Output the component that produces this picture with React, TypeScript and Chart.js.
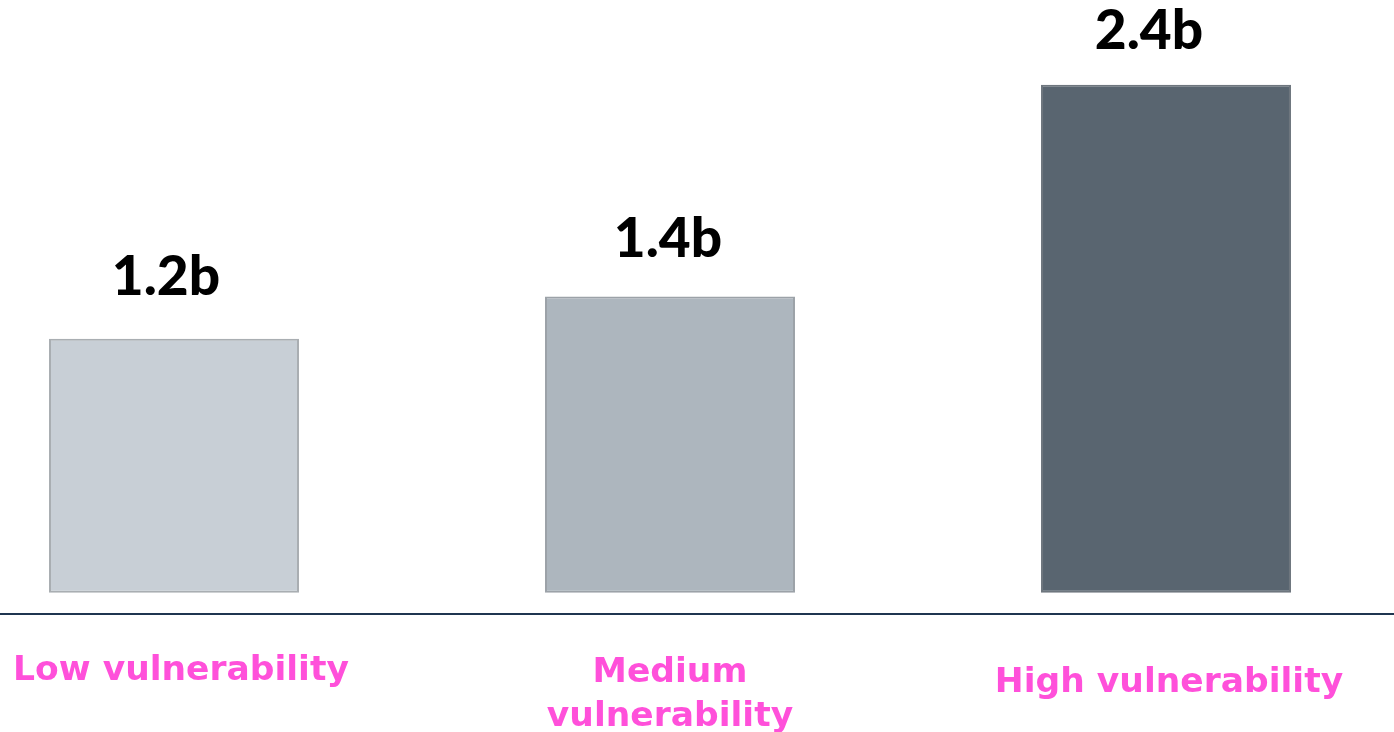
import React, { useEffect, useRef } from "react";
import { Chart, registerables } from "chart.js";

Chart.register(...registerables);

const categories: string[][] = [["Low vulnerability"], ["Medium", "vulnerability"], ["High vulnerability"]];
const values: number[] = [1.2, 1.4, 2.4];
const valueLabels: string[] = ["1.2b", "1.4b", "2.4b"];
const barColors: string[] = ["#C8CFD6", "#ADB6BE", "#596570"];
const borderColors: string[] = ["#A9AEB2", "#9CA2A8", "#6E767E"];

const labelPlugin = {
  id: "customLabels",
  afterDatasetsDraw(chart: any) {
    const ctx = chart.ctx;
    const meta = chart.getDatasetMeta(0);
    const xScale = chart.scales.x;
    const area = chart.chartArea;
    const valueGaps = [44, 39, 36];
    const valueXOffsets = [-8, -2, -17];
    ctx.save();
    ctx.fillStyle = "#000000";
    ctx.font = "900 55px Lato";
    ctx.textAlign = "center";
    ctx.textBaseline = "alphabetic";
    meta.data.forEach((bar: any, i: number) => {
      ctx.fillText(valueLabels[i], bar.x + valueXOffsets[i], bar.y - valueGaps[i]);
    });
    // category labels
    ctx.fillStyle = "#FF50DA";
    ctx.font = "bold 34.5px 'DejaVu Sans'";
    const xOffsets = [7, 0, 3];
    const baselines = [66, 68, 78];
    const lineHeight = 44;
    categories.forEach((lines, i) => {
      const x = xScale.getPixelForValue(i) + xOffsets[i];
      lines.forEach((line, j) => {
        ctx.fillText(line, x, area.bottom + baselines[i] + j * lineHeight);
      });
    });
    ctx.restore();
  },
};

export default function App() {
  const ref = useRef<HTMLCanvasElement | null>(null);
  useEffect(() => {
    document.body.style.margin = "0";
    if (!ref.current) return;
    const chart = new Chart(ref.current, {
      type: "bar",
      data: {
        labels: categories.map((c) => c.join(" ")),
        datasets: [
          {
            data: values,
            backgroundColor: barColors,
            borderColor: borderColors,
            borderWidth: 2,
            borderSkipped: false,
            barPercentage: 0.504,
            categoryPercentage: 1,
          },
        ],
      },
      options: {
        animation: false,
        responsive: false,
        maintainAspectRatio: false,
        layout: { padding: { top: 0, bottom: 118, left: 0, right: 0 } },
        plugins: { legend: { display: false }, tooltip: { enabled: false } },
        scales: {
          x: {
            grid: { display: false, drawTicks: false },
            ticks: { display: false },
            border: { display: true, color: "#1F3550", width: 2 },
          },
          y: {
            display: false,
            min: -0.1,
            max: 2.8,
          },
        },
      },
      plugins: [labelPlugin],
    });
    return () => chart.destroy();
  }, []);
  return (
    <div style={{ position: "relative", width: 1394, height: 732, overflow: "hidden", background: "#ffffff" }}>
      <canvas
        ref={ref}
        width={1488}
        height={732}
        style={{ position: "absolute", left: -74, top: 0, width: 1488, height: 732 }}
      />
    </div>
  );
}
